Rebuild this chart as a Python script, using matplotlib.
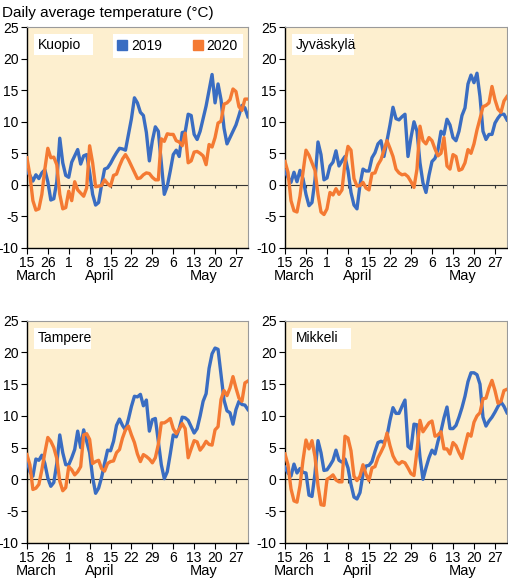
import matplotlib
matplotlib.use("Agg")
import matplotlib.pyplot as plt
from matplotlib.lines import Line2D
from matplotlib.patches import Rectangle
import numpy as np

plt.rcParams["font.family"] = ["Liberation Sans", "DejaVu Sans"]
plt.rcParams["axes.unicode_minus"] = False

# day index 0..74 (15 March onwards)
days = np.arange(75)

kuopio_2019 = [2.2, 1.5, 0.6, 1.6, 1.0, 1.9, 2.4, 0.5, -2.4, -2.2, 0.5, 7.4, 3.5, 1.5, 1.2,
               3.6, 4.6, 5.6, 3.3, 4.6, 4.8, 2.0, -1.5, -3.2, -2.8, 0.0, 2.5, 2.7, 3.4, 4.3,
               5.1, 5.8, 5.7, 5.5, 8.0, 10.5, 13.8, 13.0, 11.5, 11.0, 8.3, 3.8, 7.0, 9.2, 8.5,
               3.5, -1.5, -0.2, 2.2, 4.8, 5.5, 4.5, 8.3, 8.4, 11.2, 11.0, 8.0, 7.2, 8.5, 10.5,
               12.5, 15.0, 17.5, 13.0, 16.0, 13.5, 9.0, 6.5, 7.5, 8.5, 9.5, 11.0, 12.6, 12.2, 10.8]
kuopio_2020 = [4.3, 1.5, -2.5, -4.0, -3.8, -1.5, 2.5, 5.8, 4.3, 4.4, 3.2, -1.5, -3.8, -3.6, -1.0,
               -2.5, 0.5, -0.8, -1.3, -1.8, -0.5, 6.2, 3.5, -0.3, -0.2, -0.1, 0.8, 0.2, -0.2, 1.5,
               1.7, 3.0, 4.1, 4.8, 4.0, 3.0, 2.0, 1.0, 1.1, 1.6, 1.9, 1.8, 1.2, 0.8, 0.8,
               7.3, 6.9, 8.1, 8.0, 8.0, 7.0, 6.8, 6.2, 8.2, 3.5, 3.8, 5.2, 5.3, 5.0, 4.6,
               3.2, 6.4, 6.0, 7.5, 9.8, 10.1, 12.8, 13.0, 13.5, 15.2, 14.8, 12.4, 11.8, 13.6, 13.6]

jyvaskyla_2019 = [2.2, 1.2, 0.4, 2.0, 0.5, 2.3, 1.0, -1.5, -3.3, -2.8, 0.8, 6.8, 4.8, 0.8, 1.1,
                  3.0, 3.6, 5.4, 3.0, 3.8, 4.5, 2.3, -1.2, -3.2, -3.8, 0.0, 2.5, 2.2, 2.2, 4.3,
                  5.1, 6.5, 7.0, 4.5, 7.0, 9.5, 12.3, 10.5, 10.3, 10.8, 11.2, 4.5, 7.5, 10.0, 8.5,
                  3.5, 0.3, -1.2, 1.5, 3.7, 4.2, 5.6, 8.5, 8.0, 10.4, 9.5, 7.5, 7.0, 8.5, 11.0,
                  12.2, 16.0, 17.4, 16.2, 17.7, 14.0, 8.5, 7.2, 8.0, 8.0, 9.8, 10.6, 11.2, 11.2, 10.3]
jyvaskyla_2020 = [3.7, 2.0, -2.5, -4.1, -4.3, -1.8, 2.0, 5.5, 4.7, 3.5, 2.3, -1.5, -4.3, -4.7, -3.8,
                  -1.2, -1.6, -0.6, -1.5, -0.8, 3.5, 6.1, 5.5, 1.0, -0.2, -0.1, 0.4, -0.5, -0.8, 1.8,
                  1.9, 3.2, 4.0, 5.5, 7.0, 5.8, 4.5, 2.5, 1.9, 1.6, 1.7, 1.3, 0.5, -0.4, 2.5,
                  9.3, 7.0, 6.5, 7.5, 7.0, 5.7, 4.6, 5.0, 7.5, 3.0, 2.5, 4.8, 4.5, 2.3, 2.5,
                  3.5, 5.6, 5.0, 6.5, 8.7, 10.5, 12.4, 12.6, 13.0, 15.6, 13.5, 12.0, 11.5, 13.3, 14.0]

tampere_2019 = [3.1, 1.2, 0.5, 3.2, 3.0, 3.8, 2.5, 0.2, -1.1, -0.5, 2.5, 7.0, 4.2, 2.3, 2.3,
                3.4, 4.7, 7.6, 5.0, 7.8, 6.0, 4.2, 0.3, -2.2, -1.4, 0.3, 2.5, 4.6, 4.5, 6.0,
                8.5, 9.5, 8.5, 7.8, 9.5, 11.5, 13.1, 13.0, 13.4, 11.6, 12.5, 7.6, 9.4, 9.6, 6.0,
                2.3, 0.1, 1.2, 4.0, 7.0, 6.7, 8.0, 9.8, 9.7, 9.3, 8.3, 7.3, 8.0, 10.0, 12.3,
                13.5, 17.5, 19.8, 20.7, 20.5, 16.5, 12.5, 10.8, 10.5, 8.7, 11.0, 12.3, 11.8, 11.7, 11.0]
tampere_2020 = [3.9, 2.3, -1.6, -1.4, -0.8, 1.5, 4.2, 6.6, 6.0, 5.0, 3.3, -0.3, -1.8, -1.3, 2.0,
                1.5, 0.7, 1.2, 2.0, 7.0, 7.2, 6.3, 2.5, 2.8, 3.0, 1.7, 1.3, 2.5, 2.8, 2.9,
                4.2, 4.7, 6.5, 7.8, 8.4, 7.0, 5.8, 4.0, 2.8, 3.9, 3.6, 3.2, 2.6, 3.4, 5.5,
                8.9, 8.9, 9.2, 9.6, 8.0, 7.2, 7.9, 8.8, 8.0, 3.4, 4.8, 6.1, 5.9, 4.6, 5.2,
                6.0, 5.5, 5.4, 7.8, 8.3, 12.6, 14.0, 13.2, 14.4, 16.2, 14.4, 12.8, 12.3, 15.2, 15.5]

mikkeli_2019 = [1.9, 1.0, 0.5, 2.4, 1.0, 1.7, 1.1, 1.0, -2.5, -2.7, 0.9, 6.1, 4.2, 1.4, 1.5,
                2.2, 3.0, 4.6, 3.0, 2.7, 3.2, 1.8, -0.8, -2.8, -3.1, -2.1, 0.8, 2.1, 2.2, 2.8,
                4.4, 5.8, 6.0, 5.8, 6.8, 9.3, 11.3, 10.4, 10.4, 11.5, 12.5, 5.2, 4.8, 8.7, 8.6,
                3.5, 0.0, 1.8, 3.4, 4.6, 4.0, 6.0, 7.6, 9.7, 11.4, 8.0, 8.0, 8.5, 9.8, 11.3,
                13.1, 15.4, 16.8, 16.8, 16.5, 15.0, 9.8, 8.4, 9.2, 9.8, 10.6, 11.5, 12.2, 11.5, 10.5]
mikkeli_2020 = [4.0, 2.3, -1.5, -3.4, -3.6, -1.0, 3.0, 6.2, 4.8, 6.1, 3.6, -1.0, -4.0, -4.1, 0.0,
                0.3, 0.7, -0.1, -0.4, -0.4, 6.8, 6.5, 4.5, 0.5, -0.2, 0.5, 2.3, 0.8, -0.2, 1.8,
                2.0, 3.4, 4.3, 5.3, 7.3, 5.3, 3.7, 2.8, 2.4, 2.8, 2.6, 1.8, 0.9, 0.6, 4.5,
                9.3, 7.5, 8.2, 8.9, 9.2, 6.8, 7.0, 7.5, 4.8, 4.8, 4.0, 5.8, 5.3, 4.2, 3.3,
                5.3, 7.2, 6.8, 9.0, 10.0, 10.5, 12.7, 12.8, 14.4, 15.6, 14.0, 12.0, 12.3, 14.0, 14.2]

stations = ["Kuopio", "Jyväskylä", "Tampere", "Mikkeli"]
series_2019 = [kuopio_2019, jyvaskyla_2019, tampere_2019, mikkeli_2019]
series_2020 = [kuopio_2020, jyvaskyla_2020, tampere_2020, mikkeli_2020]

tick_pos = np.arange(0, 71, 7)
tick_labels = ["15", "26", "1", "8", "15", "22", "29", "6", "13", "20", "27"]
months = ["March", "April", "May"]
month_pos = [3, 24.3, 59.3]

blue = "#3a6dc2"
orange = "#f47a33"
bg = "#fdefcf"

fig = plt.figure(figsize=(5.08, 5.78), dpi=100)
boxes = [
    [0.053, 0.571, 0.435, 0.382],
    [0.561, 0.571, 0.437, 0.382],
    [0.053, 0.061, 0.435, 0.384],
    [0.561, 0.061, 0.437, 0.384],
]
label_w = [0.265, 0.28, 0.26, 0.265]

for i in range(4):
    ax = fig.add_axes(boxes[i])
    ax.set_facecolor(bg)
    ax.plot(days, series_2019[i], color=blue, lw=2.4, solid_joinstyle="round", zorder=3)
    ax.plot(days, series_2020[i], color=orange, lw=2.4, solid_joinstyle="round", zorder=3)
    ax.axhline(0, color="#333333", lw=0.8, zorder=2)
    ax.vlines(tick_pos, -0.55, 0, color="#333333", lw=0.8, zorder=2)

    ax.set_xlim(0, 74)
    ax.set_ylim(-10, 25)
    ax.set_yticks(range(-10, 26, 5))
    ax.set_xticks(tick_pos)
    ax.set_xticklabels(tick_labels)
    ax.tick_params(axis="both", direction="out", length=4, width=0.8, labelsize=10, pad=2)

    for side in ["top", "right"]:
        ax.spines[side].set_color("#9a9a9a")
        ax.spines[side].set_linewidth(0.8)
    for side in ["left", "bottom"]:
        ax.spines[side].set_color("black")
        ax.spines[side].set_linewidth(1.0)

    for m, mp in zip(months, month_pos):
        ax.text(mp, -0.128, m, transform=ax.get_xaxis_transform(),
                ha="center", va="center", fontsize=10.5)

    ax.add_patch(Rectangle((0.032, 0.873), label_w[i], 0.095, transform=ax.transAxes,
                           facecolor="white", edgecolor="none", zorder=4))
    ax.text(0.05, 0.921, stations[i], transform=ax.transAxes, ha="left", va="center",
            fontsize=10, zorder=5)

    if i == 0:
        handles = [Line2D([], [], color=blue, marker="s", ls="none", markersize=7),
                   Line2D([], [], color=orange, marker="s", ls="none", markersize=7)]
        leg = ax.legend(handles, ["2019", "2020"], loc="upper right",
                        bbox_to_anchor=(0.977, 0.968), borderaxespad=0, ncol=2,
                        frameon=True, fancybox=False, fontsize=10, handlelength=0.7,
                        handletextpad=0.3, columnspacing=2.2, borderpad=0.35)
        leg.get_frame().set_edgecolor("none")
        leg.get_frame().set_facecolor("white")
        leg.get_frame().set_alpha(1)
        leg.set_zorder(5)

fig.text(0.004, 0.978, "Daily average temperature (°C)", ha="left", va="center", fontsize=11)

fig.savefig("out.png", dpi=100)
